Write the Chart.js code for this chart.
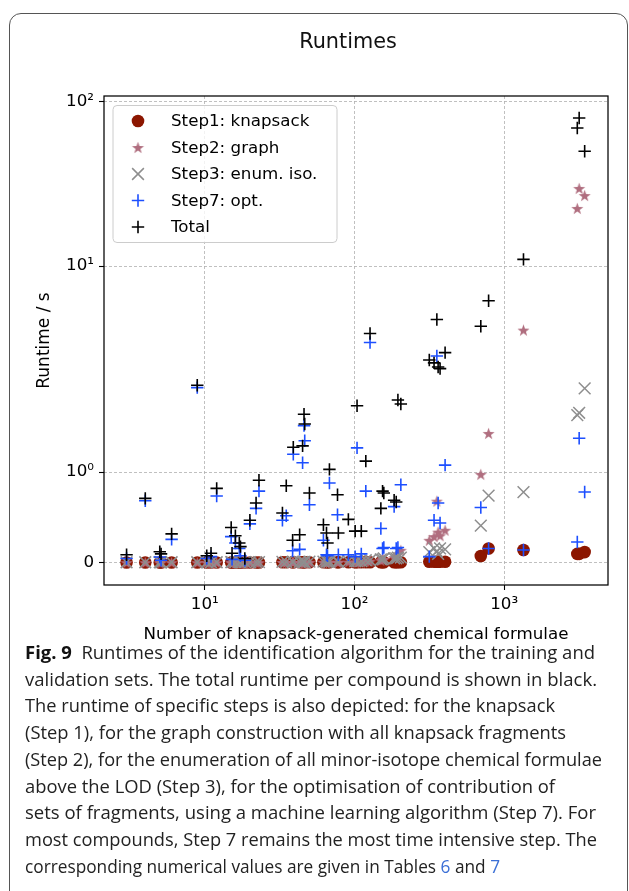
<!DOCTYPE html>
<html>
<head>
<meta charset="utf-8">
<script src="https://cdn.jsdelivr.net/npm/chart.js@4.4.0/dist/chart.umd.min.js"></script>
<style>
  body { margin: 0; background: #fff; width: 629px; height: 891px; overflow: hidden; position: relative; }
  #frame { position: absolute; left: 9px; top: 13px; width: 617px; height: 940px; border: 1.3px solid #555; border-radius: 12px; }
  #title { position: absolute; left: 0; top: 28.5px; width: 696px; text-align: center; font: 20.8px "DejaVu Sans"; line-height: 24px; color: #111; }
  #runtimeChart { position: absolute; left: 0; top: 0; }
  #caption { position: absolute; left: 25px; top: 639px; font-family: "Open Sans"; font-size: 18.6px; line-height: 26.7px; color: #222; white-space: nowrap; }
  #caption div { transform-origin: 0 0; }
  #caption b { font-weight: 700; color: #111; }
  #caption .ref { color: #3b6fd6; }
</style>
</head>
<body>
<div id="frame"></div>
<canvas id="runtimeChart" width="629" height="660"></canvas>
<div id="title">Runtimes</div>
<div id="caption">
  <div><b>Fig. 9</b>&nbsp; Runtimes of the identification algorithm for the training and</div>
  <div>validation sets. The total runtime per compound is shown in black.</div>
  <div>The runtime of specific steps is also depicted: for the knapsack</div>
  <div>(Step 1), for the graph construction with all knapsack fragments</div>
  <div>(Step 2), for the enumeration of all minor-isotope chemical formulae</div>
  <div>above the LOD (Step 3), for the optimisation of contribution of</div>
  <div>sets of fragments, using a machine learning algorithm (Step 7). For</div>
  <div>most compounds, Step 7 remains the most time intensive step. The</div>
  <div>corresponding numerical values are given in Tables <span class="ref">6</span> and <span class="ref">7</span></div>
</div>
<script>
// number of knapsack-generated formulae per compound and the runtime (s) of each step
const formulae = [3, 4, 5, 5.1, 6, 8.9, 10.3, 11, 12, 15, 15.2, 16, 17, 17.3, 18.5, 20, 22, 23,
  33, 35, 38.6, 39, 43, 45, 46, 46.5, 50, 62, 65, 66, 68, 77, 78, 91, 101, 104, 111, 119, 127,
  150, 154, 157, 184, 190, 195, 204, 316, 340, 355, 362, 373, 403, 698, 787, 1346, 3080, 3170, 3450];
const step1Knapsack = [0.006, 0.006, 0.006, 0.006, 0.006, 0.006, 0.006, 0.006, 0.006, 0.006, 0.006, 0.006, 0.006, 0.006, 0.006, 0.006, 0.006, 0.006,
  0.008, 0.008, 0.008, 0.008, 0.008, 0.008, 0.008, 0.008, 0.008, 0.008, 0.008, 0.008, 0.008, 0.008, 0.008, 0.008, 0.008, 0.008, 0.008, 0.008, 0.008,
  0.008, 0.008, 0.008, 0.008, 0.008, 0.008, 0.008, 0.014, 0.014, 0.014, 0.014, 0.014, 0.014, 0.077, 0.16, 0.143, 0.10, 0.10, 0.12];
const step2Graph = [0.004, 0.004, 0.004, 0.004, 0.004, 0.004, 0.004, 0.004, 0.004, 0.004, 0.004, 0.004, 0.004, 0.004, 0.004, 0.004, 0.004, 0.004,
  0.006, 0.006, 0.006, 0.006, 0.006, 0.006, 0.006, 0.006, 0.008, 0.008, 0.008, 0.008, 0.008, 0.008, 0.008, 0.01, 0.01, 0.01, 0.01, 0.02, 0.02,
  0.03, 0.04, 0.04, 0.06, 0.08, 0.10, 0.14, 0.25, 0.29, 0.68, 0.34, 0.30, 0.36, 0.975, 1.54, 4.89, 22.4, 29.6, 26.8];
const step3EnumIso = [0.008, 0.008, 0.008, 0.008, 0.008, 0.008, 0.008, 0.008, 0.008, 0.01, 0.01, 0.01, 0.01, 0.01, 0.01, 0.01, 0.01, 0.01,
  0.012, 0.012, 0.012, 0.012, 0.012, 0.012, 0.012, 0.012, 0.015, 0.015, 0.015, 0.015, 0.015, 0.015, 0.015, 0.02, 0.02, 0.02, 0.02, 0.03, 0.03,
  0.04, 0.04, 0.05, 0.05, 0.05, 0.06, 0.06, 0.12, 0.16, 0.13, 0.10, 0.16, 0.15, 0.41, 0.74, 0.78, 1.89, 1.94, 2.55];
const step7Opt = [0.05, 0.685, 0.066, 0.03, 0.26, 2.57, 0.05, 0.07, 0.736, 0.29, 0.04, 0.22, 0.16, 0.08, 0.03, 0.43, 0.60, 0.79,
  0.47, 0.52, 0.135, 1.22, 0.15, 1.11, 1.68, 1.42, 0.64, 0.25, 0.09, 0.08, 0.88, 0.53, 0.09, 0.09, 0.07, 1.31, 0.10, 0.79, 4.26,
  0.38, 0.16, 0.17, 0.62, 0.16, 0.17, 0.86, 0.07, 0.47, 3.66, 0.66, 0.44, 1.08, 0.61, 0.16, 0.143, 0.23, 1.46, 0.78];
const totalRuntime = [0.09, 0.71, 0.124, 0.10, 0.32, 2.64, 0.08, 0.107, 0.82, 0.39, 0.107, 0.30, 0.22, 0.18, 0.05, 0.47, 0.66, 0.91,
  0.55, 0.85, 0.25, 1.32, 0.31, 1.34, 1.91, 1.71, 0.77, 0.42, 0.33, 0.22, 1.03, 0.75, 0.33, 0.48, 0.35, 2.1, 0.35, 1.13, 4.71,
  0.60, 0.79, 0.77, 0.69, 0.67, 2.24, 2.14, 3.5, 3.39, 5.51, 3.24, 3.18, 3.8, 5.11, 6.79, 11.0, 68.9, 79.2, 49.8];

const seriesLabels = ['Step1: knapsack', 'Step2: graph', 'Step3: enum. iso.', 'Step7: opt.', 'Total'];
const xTickValues = [10, 100, 1000];
const xTickLabels = ['10¹', '10²', '10³'];
const yTickValues = [0, 1, 10, 100];
const yTickLabels = ['0', '10⁰', '10¹', '10²'];

// symlog axis: linear part [0,1], then one segment per decade (pixel weights as in the figure)
const ySegmentPx = [91, 206, 165];

function symT(v) {
  const s = v <= 1 ? v : 1 + Math.log10(v);
  if (s <= 1) return s * ySegmentPx[0];
  if (s <= 2) return ySegmentPx[0] + (s - 1) * ySegmentPx[1];
  return ySegmentPx[0] + ySegmentPx[1] + (s - 2) * ySegmentPx[2];
}

class SymlogScale extends Chart.Scale {
  determineDataLimits() {
    this.min = this.options.min;
    this.max = this.options.max;
  }
  buildTicks() {
    return yTickValues.map(v => ({ value: v }));
  }
  configure() {
    super.configure();
    this._tMin = symT(this.min);
    this._tMax = symT(this.max);
  }
  getPixelForValue(value) {
    return this.getPixelForDecimal((symT(value) - this._tMin) / (this._tMax - this._tMin));
  }
  getValueForPixel(pixel) {
    return this.min + this.getDecimalForPixel(pixel) * (this.max - this.min);
  }
}
SymlogScale.id = 'symlog';
SymlogScale.defaults = {};
Chart.register(SymlogScale);

function makeStar(color, r) {
  const c = document.createElement('canvas');
  const size = Math.ceil(r * 2 + 2);
  c.width = size;
  c.height = size;
  const g = c.getContext('2d');
  g.fillStyle = color;
  g.beginPath();
  for (let k = 0; k < 10; k++) {
    const rad = k % 2 ? r * 0.4 : r;
    const a = -Math.PI / 2 + k * Math.PI / 5;
    g.lineTo(size / 2 + rad * Math.cos(a), size / 2 + 0.6 + rad * Math.sin(a));
  }
  g.closePath();
  g.fill();
  return c;
}

const toPoints = values => formulae.map((x, i) => ({ x: x, y: values[i] }));
const font = { family: 'DejaVu Sans', size: 16.7 };

const spines = {
  id: 'spines',
  afterDatasetsDraw(chart) {
    const { ctx, chartArea: a } = chart;
    ctx.save();
    ctx.strokeStyle = '#000';
    ctx.lineWidth = 1.25;
    ctx.strokeRect(a.left, a.top, a.right - a.left, a.bottom - a.top);
    ctx.restore();
  }
};

// legend drawn inside the axes, upper left, like matplotlib
const innerLegend = {
  id: 'innerLegend',
  afterDraw(chart) {
    const { ctx, chartArea: a } = chart;
    const x0 = a.left + 9, y0 = a.top + 9.5, w = 224, h = 137;
    ctx.save();
    ctx.beginPath();
    ctx.roundRect(x0, y0, w, h, 4);
    ctx.fillStyle = 'rgba(255,255,255,0.8)';
    ctx.fill();
    ctx.strokeStyle = '#cccccc';
    ctx.lineWidth = 1;
    ctx.stroke();
    chart.data.datasets.forEach((ds, i) => {
      const y = y0 + 15.5 + i * 26.5;
      ctx.fillStyle = ds.pointBackgroundColor || '#000';
      ctx.strokeStyle = ds.pointBorderColor || '#000';
      ctx.lineWidth = ds.pointBorderWidth || 0;
      Chart.helpers.drawPoint(ctx, {
        pointStyle: ds.pointStyle, radius: ds.pointRadius, borderWidth: ds.pointBorderWidth || 0, rotation: 0
      }, x0 + 25, y);
      ctx.fillStyle = '#000';
      ctx.font = '16.7px "DejaVu Sans"';
      ctx.textBaseline = 'middle';
      ctx.fillText(ds.label, x0 + 58, y + 1);
    });
    ctx.restore();
  }
};

const ctx = document.getElementById('runtimeChart').getContext('2d');
const chart = new Chart(ctx, {
  type: 'scatter',
  data: {
    datasets: [{
      label: seriesLabels[0],
      data: toPoints(step1Knapsack),
      pointStyle: 'circle',
      pointRadius: 6.3,
      pointBackgroundColor: '#8c1600',
      pointBorderWidth: 0,
      order: 5
    }, {
      label: seriesLabels[1],
      data: toPoints(step2Graph),
      pointStyle: makeStar('#b06e7f', 6.3),
      pointRadius: 6,
      order: 4
    }, {
      label: seriesLabels[2],
      data: toPoints(step3EnumIso),
      pointStyle: 'crossRot',
      pointRadius: 8.3,
      pointBorderColor: '#8e8e8e',
      pointBorderWidth: 1.5,
      order: 3
    }, {
      label: seriesLabels[3],
      data: toPoints(step7Opt),
      pointStyle: 'cross',
      pointRadius: 6.2,
      pointBorderColor: '#1d4fff',
      pointBorderWidth: 1.6,
      order: 2
    }, {
      label: seriesLabels[4],
      data: toPoints(totalRuntime),
      pointStyle: 'cross',
      pointRadius: 6.2,
      pointBorderColor: '#000000',
      pointBorderWidth: 1.6,
      order: 1
    }]
  },
  options: {
    responsive: false,
    animation: false,
    events: [],
    layout: { padding: { left: 0, right: 21, top: 96, bottom: 0 } },
    plugins: { legend: { display: false }, tooltip: { enabled: false } },
    scales: {
      x: {
        type: 'logarithmic',
        min: 2.12,
        max: 4940,
        bounds: 'data',
        afterBuildTicks: s => { s.ticks = xTickValues.map(v => ({ value: v })); },
        afterFit: s => { s.height = 75; },
        grid: { color: '#b0b0b0', lineWidth: 0.8, tickLength: 5, tickColor: '#000', tickWidth: 1.1 },
        border: { display: false, dash: [3, 2] },
        ticks: {
          color: '#000', font: font, padding: 5, maxRotation: 0, autoSkip: false,
          callback: v => xTickLabels[xTickValues.indexOf(v)] ?? ''
        },
        title: {
          display: true, text: 'Number of knapsack-generated chemical formulae',
          color: '#000', font: font, padding: { top: 0, bottom: 15 }
        }
      },
      y: {
        type: 'symlog',
        min: -0.242,
        max: 107.6,
        afterFit: s => { s.width = 104; },
        grid: { color: '#b0b0b0', lineWidth: 0.8, tickLength: 5, tickColor: '#000', tickWidth: 1.1 },
        border: { display: false, dash: [3, 2] },
        ticks: {
          color: '#000', font: font, padding: 5, autoSkip: false,
          callback: v => yTickLabels[yTickValues.indexOf(v)] ?? ''
        },
        title: {
          display: true, text: 'Runtime / s',
          color: '#000', font: { family: 'DejaVu Sans', size: 17 }, padding: { top: 34, bottom: 0 }
        }
      }
    }
  },
  plugins: [spines, innerLegend]
});

// the printed caption uses a narrow face: squeeze each line to the width it has in the figure
const captionLineEnds = [595, 597, 555, 566, 602, 555, 596, 597, 500];
document.querySelectorAll('#caption > div').forEach((line, i) => {
  const range = document.createRange();
  range.selectNodeContents(line);
  const w = range.getBoundingClientRect().width;
  line.style.transform = 'scaleX(' + ((captionLineEnds[i] - 25) / w) + ')';
});
</script>
</body>
</html>
